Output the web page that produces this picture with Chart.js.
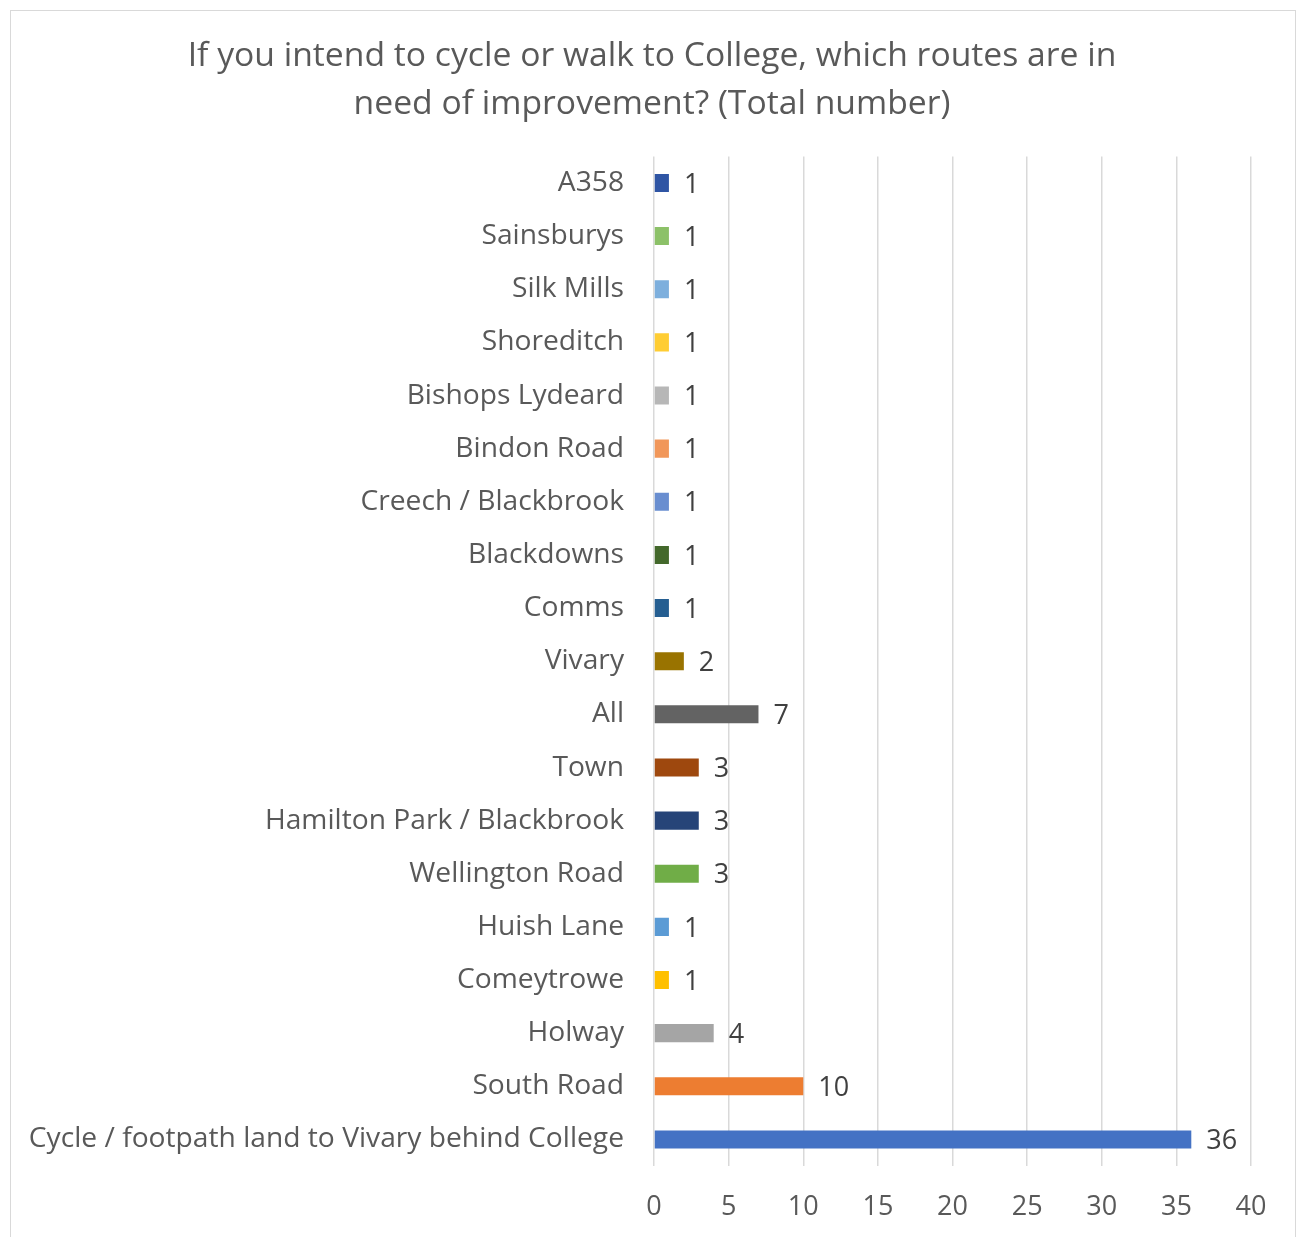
<!DOCTYPE html>
<html>
<head>
<meta charset="utf-8">
<script src="https://cdn.jsdelivr.net/npm/chart.js@4.4.1/dist/chart.umd.min.js"></script>
<style>
  body { margin: 0; background: #fff; }
  #wrap { width: 1304px; height: 1237px; position: relative; }
</style>
</head>
<body>
<div id="wrap"><canvas id="routesChart" width="1304" height="1237"></canvas></div>
<script>
const routes = [
    'A358', 'Sainsburys', 'Silk Mills', 'Shoreditch', 'Bishops Lydeard',
    'Bindon Road', 'Creech / Blackbrook', 'Blackdowns', 'Comms', 'Vivary',
    'All', 'Town', 'Hamilton Park / Blackbrook', 'Wellington Road', 'Huish Lane',
    'Comeytrowe', 'Holway', 'South Road', 'Cycle / footpath land to Vivary behind College'
];
const counts = [1, 1, 1, 1, 1, 1, 1, 1, 1, 2, 7, 3, 3, 3, 1, 1, 4, 10, 36];
const barColours = [
    '#2F55A4', '#8CC168', '#7DAFDD', '#FFCD33', '#B7B7B7',
    '#F1975A', '#698ED0', '#43682B', '#255E91', '#997300',
    '#636363', '#9E480E', '#264478', '#70AD47', '#5B9BD5',
    '#FFC000', '#A5A5A5', '#ED7D31', '#4472C4'
];
const titleLines = [
    'If you intend to cycle or walk to College, which routes are in',
    'need of improvement? (Total number)'
];

const fontFamily = '"Open Sans", sans-serif';

// value labels at the end of each bar
const barValueLabels = {
    id: 'barValueLabels',
    afterDatasetsDraw(chart) {
        const ctx = chart.ctx;
        const meta = chart.getDatasetMeta(0);
        ctx.save();
        ctx.font = '27px ' + fontFamily;
        ctx.fillStyle = '#404040';
        ctx.textAlign = 'left';
        ctx.textBaseline = 'middle';
        meta.data.forEach((bar, i) => {
            ctx.fillText(String(counts[i]), bar.x + 15, bar.y + 2);
        });
        ctx.restore();
    }
};

// outer chart frame
const chartFrame = {
    id: 'chartFrame',
    beforeDraw(chart) {
        const ctx = chart.ctx;
        ctx.save();
        ctx.strokeStyle = '#d9d9d9';
        ctx.lineWidth = 1;
        ctx.strokeRect(10.5, 10.5, 1285, 1240);
        ctx.restore();
    }
};

// centre the title on the whole page, not on the padded box
const centreTitle = {
    id: 'centreTitle',
    afterLayout(chart) {
        if (chart.titleBlock) {
            chart.titleBlock.left = 0;
            chart.titleBlock.right = chart.width;
        }
    }
};

const ctx = document.getElementById('routesChart').getContext('2d');
new Chart(ctx, {
    type: 'bar',
    data: {
        labels: routes,
        datasets: [{
            data: counts,
            backgroundColor: barColours,
            barPercentage: 0.34,
            categoryPercentage: 1.0
        }]
    },
    options: {
        indexAxis: 'y',
        responsive: false,
        animation: false,
        layout: { padding: { left: 0, right: 53, top: 0, bottom: 0 } },
        plugins: {
            legend: { display: false },
            tooltip: { enabled: false },
            title: {
                display: true,
                text: titleLines,
                color: '#595959',
                font: { family: fontFamily, size: 33.7, weight: 'normal', lineHeight: 1.43 },
                padding: { top: 32, bottom: 28 }
            }
        },
        scales: {
            x: {
                min: 0,
                max: 40,
                ticks: {
                    stepSize: 5,
                    color: '#595959',
                    font: { family: fontFamily, size: 27 },
                    padding: 25
                },
                grid: { color: '#d9d9d9', lineWidth: 1.5, drawTicks: false },
                border: { display: false },
                afterFit(scale) { scale.height = 71; }
            },
            y: {
                ticks: {
                    color: '#595959',
                    font: { family: fontFamily, size: 28.2 },
                    padding: 30,
                    autoSkip: false
                },
                grid: { display: false, drawTicks: false },
                border: { display: false },
                afterFit(scale) { scale.width = 654; }
            }
        }
    },
    plugins: [barValueLabels, chartFrame, centreTitle]
});
</script>
</body>
</html>
